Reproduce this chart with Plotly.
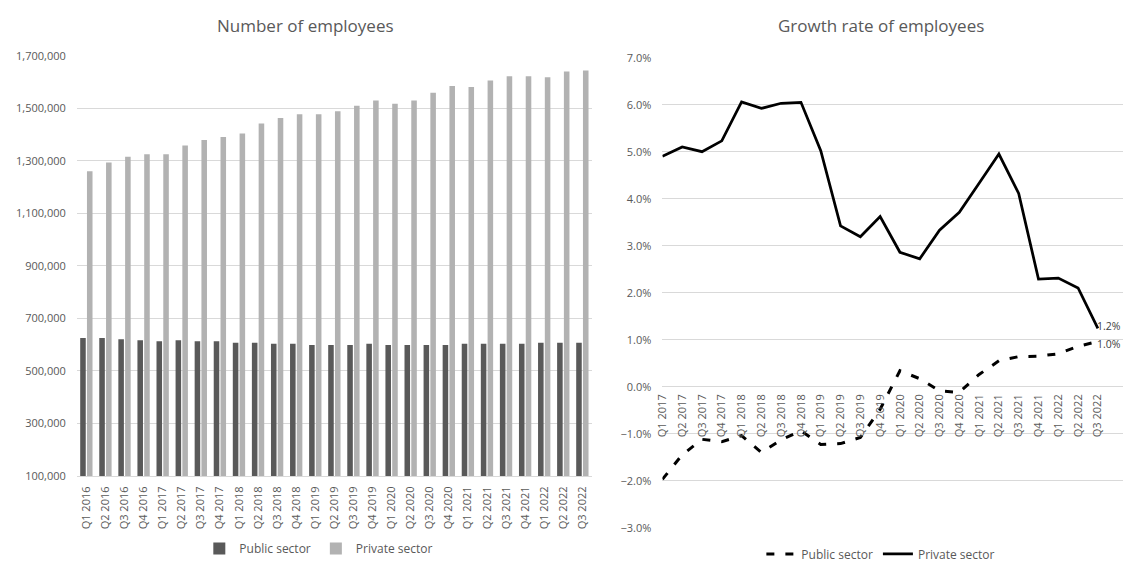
import plotly.graph_objects as go

# ---- Data ----
quarters_count = ["Q1 2016", "Q2 2016", "Q3 2016", "Q4 2016",
                  "Q1 2017", "Q2 2017", "Q3 2017", "Q4 2017",
                  "Q1 2018", "Q2 2018", "Q3 2018", "Q4 2018",
                  "Q1 2019", "Q2 2019", "Q3 2019", "Q4 2019",
                  "Q1 2020", "Q2 2020", "Q3 2020", "Q4 2020",
                  "Q1 2021", "Q2 2021", "Q3 2021", "Q4 2021",
                  "Q1 2022", "Q2 2022", "Q3 2022"]
public_count = [626000, 626000, 621000, 617000, 613000, 617000, 613000, 613000,
                608000, 608000, 604000, 604000, 599000, 599000, 599000, 604000,
                599000, 599000, 599000, 599000, 604000, 604000, 604000, 604000,
                608000, 608000, 608000]
private_count = [1260000, 1294000, 1315000, 1325000, 1325000, 1358000, 1379000, 1391000,
                 1404000, 1442000, 1463000, 1477000, 1477000, 1489000, 1510000, 1530000,
                 1517000, 1530000, 1559000, 1585000, 1581000, 1606000, 1622000, 1622000,
                 1618000, 1640000, 1644000]

quarters_growth = ["Q1 2017", "Q2 2017", "Q3 2017", "Q4 2017",
                   "Q1 2018", "Q2 2018", "Q3 2018", "Q4 2018",
                   "Q1 2019", "Q2 2019", "Q3 2019", "Q4 2019",
                   "Q1 2020", "Q2 2020", "Q3 2020", "Q4 2020",
                   "Q1 2021", "Q2 2021", "Q3 2021", "Q4 2021",
                   "Q1 2022", "Q2 2022", "Q3 2022"]
public_growth = [-1.97, -1.45, -1.12, -1.17, -1.04, -1.40, -1.13, -0.94,
                 -1.23, -1.21, -1.08, -0.48, 0.34, 0.17, -0.09, -0.12,
                 0.26, 0.55, 0.64, 0.65, 0.70, 0.86, 0.96]
private_growth = [4.90, 5.10, 5.00, 5.23, 6.06, 5.92, 6.03, 6.05,
                  5.02, 3.42, 3.19, 3.62, 2.86, 2.72, 3.33, 3.71,
                  4.33, 4.95, 4.11, 2.29, 2.31, 2.10, 1.24]

# ---- Styling ----
W, H = 1147, 572
FONT = "Open Sans"
GREY = "#595959"
GRID = "#d9d9d9"

def px_x(p):
    return p / W

def px_y(p):
    return (H - p) / H

fig = go.Figure()

fig.add_trace(go.Bar(x=quarters_count, y=public_count, name="Public sector",
                     marker=dict(color="#595959", line=dict(width=0)),
                     xaxis="x", yaxis="y", legend="legend"))
fig.add_trace(go.Bar(x=quarters_count, y=private_count, name="Private sector",
                     marker=dict(color="#b2b2b2", line=dict(width=0)),
                     xaxis="x", yaxis="y", legend="legend"))

fig.add_trace(go.Scatter(x=quarters_growth, y=public_growth, name="Public sector",
                         mode="lines", line=dict(color="black", width=3, dash="8px,11px"),
                         xaxis="x2", yaxis="y2", legend="legend2"))
fig.add_trace(go.Scatter(x=quarters_growth, y=private_growth, name="Private sector",
                         mode="lines", line=dict(color="black", width=2.75),
                         xaxis="x2", yaxis="y2", legend="legend2"))

# data labels at last points
fig.add_annotation(x=quarters_growth[-1], y=private_growth[-1], xref="x2", yref="y2",
                   text=f"{private_growth[-1]:.1f}%", showarrow=False,
                   xanchor="left", yanchor="middle", xshift=-3, yshift=2,
                   font=dict(family=FONT, size=10.5, color="#404040"))
fig.add_annotation(x=quarters_growth[-1], y=public_growth[-1], xref="x2", yref="y2",
                   text=f"{public_growth[-1]:.1f}%", showarrow=False,
                   xanchor="left", yanchor="middle", xshift=-3, yshift=-2,
                   font=dict(family=FONT, size=10.5, color="#404040"))

# titles
fig.add_annotation(x=px_x(300), y=px_y(18), xref="paper", yref="paper",
                   text="Number of employees", showarrow=False,
                   xanchor="center", yanchor="middle",
                   font=dict(family=FONT, size=17, color=GREY))
fig.add_annotation(x=px_x(879), y=px_y(18), xref="paper", yref="paper",
                   text="Growth rate of employees", showarrow=False,
                   xanchor="center", yanchor="middle",
                   font=dict(family=FONT, size=17, color=GREY))

tickfont = dict(family=FONT, size=11, color=GREY)

fig.update_layout(
    width=W, height=H,
    margin=dict(l=0, r=0, t=0, b=0),
    paper_bgcolor="white", plot_bgcolor="white",
    font=dict(family=FONT, color=GREY),
    barmode="group", bargap=0.29, bargroupgap=0.18,
    showlegend=True,
    xaxis=dict(domain=[px_x(69.3), px_x(588)], anchor="y", type="category",
               tickangle=-90, tickfont=tickfont, showgrid=False,
               showline=True, linecolor=GRID, linewidth=1, ticks="",
               ticklabelstandoff=5),
    yaxis=dict(domain=[px_y(480.7), px_y(49)], anchor="x",
               range=[100000, 1700000], dtick=200000, tick0=100000,
               tickformat=",", tickfont=tickfont, showgrid=True,
               gridcolor=GRID, gridwidth=1, zeroline=False, showline=False,
               ticks="", ticklabelstandoff=10),
    xaxis2=dict(domain=[px_x(659), px_x(1122.7)], anchor="free",
                position=px_y(388.3), type="category",
                tickangle=-90, tickfont=tickfont, showgrid=False,
                showline=False, ticks="", ticklabelstandoff=5),
    yaxis2=dict(domain=[px_y(533.7), px_y(51)], anchor="x2",
                range=[-3, 7], dtick=1, tick0=0,
                tickformat=".1f", ticksuffix="%", tickfont=tickfont,
                showgrid=True, gridcolor=GRID, gridwidth=1,
                zeroline=False, showline=False, ticks="", ticklabelstandoff=10),
    legend=dict(orientation="h", x=px_x(313), y=px_y(555), xanchor="center",
                yanchor="middle", font=dict(family=FONT, size=12, color=GREY),
                itemwidth=30, bgcolor="rgba(0,0,0,0)"),
    legend2=dict(orientation="h", x=px_x(879), y=px_y(560.7), xanchor="center",
                 yanchor="middle", font=dict(family=FONT, size=12, color=GREY),
                 itemwidth=30, bgcolor="rgba(0,0,0,0)"),
)

fig.write_html("out.html",
               config={"displayModeBar": False},
               post_script="document.body.style.margin='0';document.body.style.overflow='hidden';")
